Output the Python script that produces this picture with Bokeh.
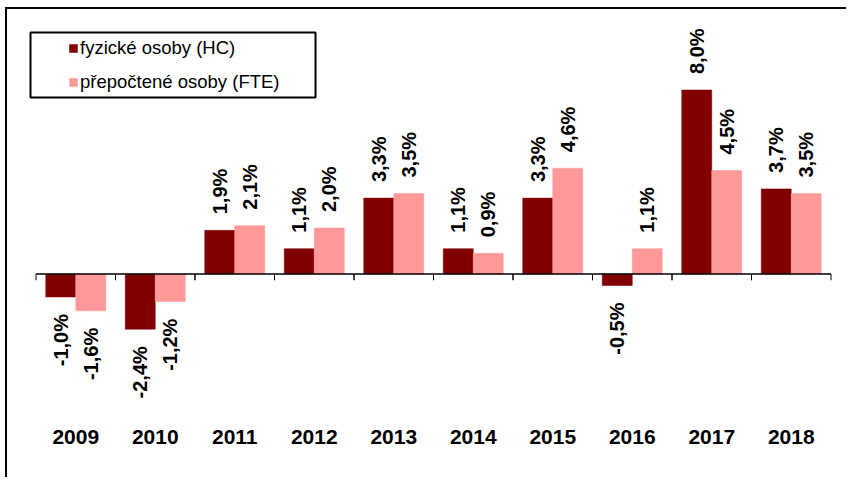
import math
from bokeh.plotting import figure
from bokeh.models import ColumnDataSource, FactorRange, Range1d, Legend, LegendItem, BoxAnnotation
from bokeh.transform import dodge
from bokeh.core.properties import value
from bokeh.embed import file_html
from bokeh.resources import INLINE

# ---- data ----
years = ["2009", "2010", "2011", "2012", "2013", "2014", "2015", "2016", "2017", "2018"]
hc = [-1.0, -2.4, 1.9, 1.1, 3.3, 1.1, 3.3, -0.5, 8.0, 3.7]
fte = [-1.6, -1.2, 2.1, 2.0, 3.5, 0.9, 4.6, 1.1, 4.5, 3.5]
series_names = ["fyzické osoby (HC)", "přepočtené osoby (FTE)"]
colors = ["#800000", "#FF9999"]

FONT = "Liberation Sans"

# ---- layout ----
W, H = 841, 470
ML, MR, MB = 21, 10, 59
frame_w = W - ML - MR
frame_h = H - MB
PX_PER_CAT = 79.5
pad_units = (frame_w / PX_PER_CAT - len(years)) / 2
PX_PER_UNIT = 23.0
zero_from_top = 264.5
y_end = zero_from_top / PX_PER_UNIT
y_start = -(frame_h - zero_from_top) / PX_PER_UNIT

def fmt(v):
    return ("%.1f" % v).replace(".", ",") + "%"

src = ColumnDataSource(dict(
    year=years,
    hc=hc,
    fte=fte,
    hc_lbl=[fmt(v) for v in hc],
    fte_lbl=[fmt(v) for v in fte],
    hc_align=["left" if v >= 0 else "right" for v in hc],
    fte_align=["left" if v >= 0 else "right" for v in fte],
    hc_off=[-16 if v >= 0 else 17 for v in hc],
    fte_off=[-16 if v >= 0 else 17 for v in fte],
    zero=[0.0] * len(years),
    tick=[-0.27] * len(years),
))

p = figure(
    x_range=FactorRange(*years, range_padding=2 * pad_units / len(years), range_padding_units="percent"),
    y_range=Range1d(y_start, y_end),
    width=W, height=H,
    output_backend="svg", toolbar_location=None,
    y_axis_location=None,
    min_border_left=ML, min_border_right=MR, min_border_top=0, min_border_bottom=MB,
)
p.styles = {"border-left": "2px solid black", "border-top": "2px solid black",
            "margin-left": "5px", "margin-top": "7px"}
p.outline_line_color = None
p.xgrid.visible = False
p.ygrid.visible = False
p.background_fill_color = "white"
p.border_fill_color = "white"

bw = 30.0 / PX_PER_CAT
off = bw / 2

r_hc = p.vbar(x=dodge("year", -off, range=p.x_range), top="hc", bottom=0, width=bw, source=src,
              fill_color=colors[0], line_color=colors[0], line_width=0.5)
r_fte = p.vbar(x=dodge("year", off, range=p.x_range), top="fte", bottom=0, width=bw, source=src,
               fill_color=colors[1], line_color=colors[1], line_width=0.5)

# zero line across the categories and boundary ticks
p.segment(x0=dodge("year", -0.5, range=p.x_range), y0="zero", x1=dodge("year", 0.5, range=p.x_range), y1="zero",
          source=src, line_color="black", line_width=1.5)
p.segment(x0=dodge("year", -0.5, range=p.x_range), y0="zero", x1=dodge("year", -0.5, range=p.x_range), y1="tick",
          source=src, line_color="black", line_width=1)
p.segment(x0=dodge("year", 0.5, range=p.x_range), y0="zero", x1=dodge("year", 0.5, range=p.x_range), y1="tick",
          source=src, line_color="black", line_width=1)

# value labels
for col, sign in (("hc", -off), ("fte", off)):
    p.text(x=dodge("year", sign, range=p.x_range), y=col, text=col + "_lbl", source=src,
           angle=math.pi / 2, text_align=col + "_align", text_baseline="middle",
           y_offset=col + "_off",
           text_font=value(FONT), text_font_style="bold", text_font_size="20px", text_color="black")

# x axis
ax = p.xaxis[0]
ax.axis_line_color = None
ax.major_tick_line_color = None
ax.minor_tick_line_color = None
ax.major_tick_out = 0
ax.major_label_standoff = 9
ax.major_label_text_font = FONT
ax.major_label_text_font_style = "bold"
ax.major_label_text_font_size = "21px"
ax.major_label_text_color = "black"

# legend
legend = Legend(items=[LegendItem(label=series_names[0], renderers=[r_hc]),
                       LegendItem(label=series_names[1], renderers=[r_fte])],
                location=(40, 327), orientation="vertical", padding=0, margin=0, spacing=12,
                glyph_width=10, glyph_height=10, label_standoff=2, label_height=22,
                label_text_font=FONT, label_text_font_size="18.5px", label_text_color="black",
                border_line_color=None, background_fill_alpha=0)
p.add_layout(legend, "center")
p.add_layout(BoxAnnotation(left=2, right=287, bottom=323, top=388,
                           left_units="screen", right_units="screen", top_units="screen", bottom_units="screen",
                           fill_alpha=0, line_color="black", line_alpha=1.0, line_width=2))

open("out.html", "w").write(file_html(p, INLINE))
